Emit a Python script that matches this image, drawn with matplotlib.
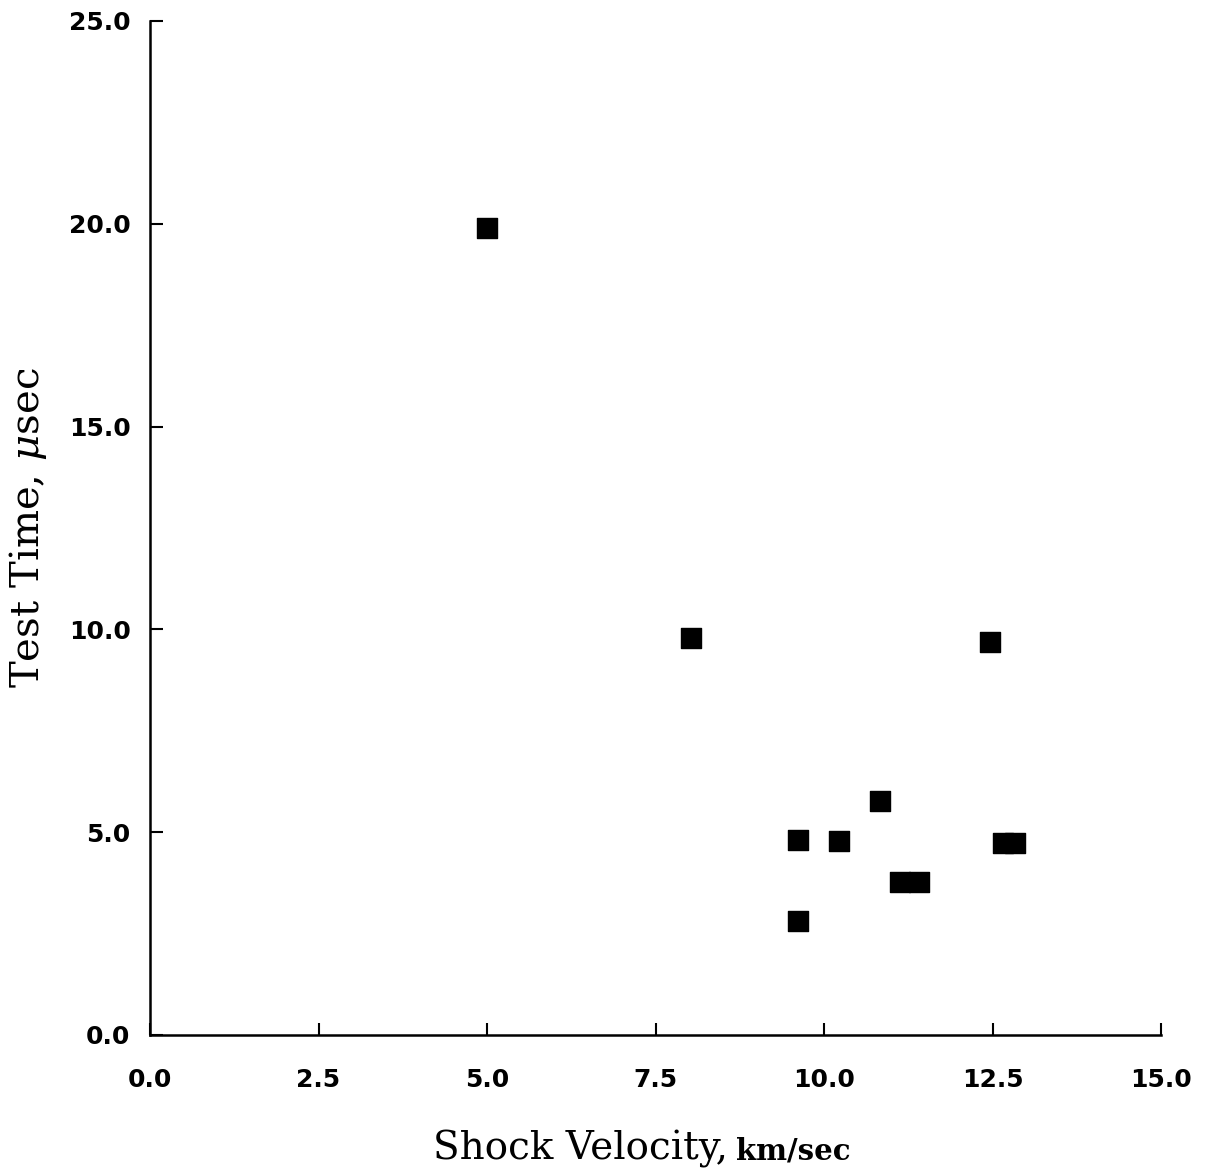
import matplotlib
matplotlib.use("Agg")
import matplotlib.pyplot as plt

# Data
shock_velocity = [5.0, 8.03, 12.46, 10.83, 9.61, 10.22, 11.13, 11.41, 12.65, 12.83, 9.61]
test_time = [19.9, 9.8, 9.7, 5.77, 4.8, 4.78, 3.76, 3.76, 4.73, 4.73, 2.8]
x_ticks = [0.0, 2.5, 5.0, 7.5, 10.0, 12.5, 15.0]
y_ticks = [0.0, 5.0, 10.0, 15.0, 20.0, 25.0]

plt.rcParams['mathtext.fontset'] = 'dejavuserif'
plt.rcParams['xtick.direction'] = 'in'
plt.rcParams['ytick.direction'] = 'in'

fig = plt.figure(figsize=(12.08, 11.75), dpi=100)
ax = fig.add_axes([150/1208, 1 - 1035/1175, (1161-150)/1208, (1035-21)/1175])

ax.scatter(shock_velocity, test_time, marker='s', s=210, color='black', zorder=3)

ax.set_xlim(0, 15)
ax.set_ylim(0, 25)
ax.set_xticks(x_ticks)
ax.set_yticks(y_ticks)
ax.set_xticklabels([f"{v:.1f}" for v in x_ticks], fontsize=18, fontweight='bold',
                   family='DejaVu Sans')
ax.set_yticklabels([f"{v:.1f}" for v in y_ticks], fontsize=18, fontweight='bold',
                   family='DejaVu Sans')
ax.tick_params(axis='x', direction='in', length=9, width=1.5, pad=24)
ax.tick_params(axis='y', direction='in', length=9, width=1.5, pad=14)

for s in ['top', 'right']:
    ax.spines[s].set_visible(False)
for s in ['left', 'bottom']:
    ax.spines[s].set_linewidth(1.8)

ax.set_ylabel(r"Test Time, $\mu$sec", fontsize=29, family='DejaVu Serif', labelpad=14)

# x label: mixed sizes
t1 = fig.text(433/1208, 1 - 1160/1175, "Shock Velocity,", fontsize=28,
              family='DejaVu Serif', ha='left', va='baseline')
fig.canvas.draw()
bb = t1.get_window_extent()
x2 = (bb.x1 + 8) / fig.bbox.width
fig.text(x2, 1 - 1160/1175, "km/sec", fontsize=21, family='DejaVu Serif',
         fontweight='bold', ha='left', va='baseline')

fig.savefig("out.png", dpi=100)
